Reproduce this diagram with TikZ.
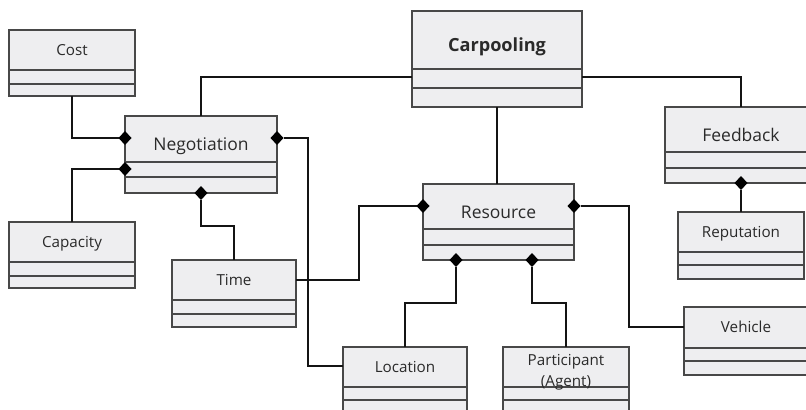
\documentclass[tikz,border=0pt]{standalone}
\usepackage{fontspec}
\setmainfont{Open Sans}
\usetikzlibrary{shapes.geometric,calc}
\definecolor{boxfill}{HTML}{EEEEF0}
\definecolor{boxline}{HTML}{484848}
\definecolor{txt}{HTML}{2A2A2A}
\tikzset{
  cls/.style={draw=boxline, fill=boxfill, line width=0.9pt, rectangle,
    inner sep=0pt, outer sep=0pt, anchor=north west},
  sep/.style={draw=boxline, line width=0.9pt},
  lbl/.style={text=txt, inner sep=0pt, anchor=base, align=center,
    font=\fontsize{11.4}{15.5}\selectfont, yshift=-4.05pt},
  biglbl/.style={lbl, font=\fontsize{13.1}{17}\selectfont, yshift=-4.7pt},
  titlelbl/.style={lbl, font=\bfseries\fontsize{13.6}{18}\selectfont, yshift=-4.85pt},
  twolbl/.style={lbl, anchor=center, yshift=0pt},
  comp/.style={diamond, fill=black, draw=none, inner sep=0pt, outer sep=0pt,
    minimum width=9.75pt, minimum height=10.5pt},
  conn/.style={draw=black!92, line width=1.1pt}
}
% class box: name, x1, y1, x2, y2, first separator, second separator, label style, label
\newcommand\umlclass[9]{%
  \node[cls, minimum width={(#4-#2)*0.75pt}, minimum height={(#5-#3)*0.75pt}] (#1) at (#2,#3) {};
  \draw[sep] (#1.west |- 0,#6) -- (#1.east |- 0,#6);
  \draw[sep] (#1.west |- 0,#7) -- (#1.east |- 0,#7);
  \node[#8] (#1-name) at ({(#2+#4)/2},{(#3+#6)/2}) {#9};
}
\begin{document}
\begin{tikzpicture}[x=0.75pt, y=-0.75pt]
  \useasboundingbox (0,0) rectangle (806,410);
  \clip (0,0) rectangle (806,410);

  % classes
  \umlclass{carp}{412}{11}{582}{107}{69}{88}{titlelbl}{Carpooling}
  \umlclass{cost}{9}{30}{135}{96}{70}{84}{lbl}{Cost}
  \umlclass{neg}{125}{116}{277}{193}{162}{177}{biglbl}{Negotiation}
  \umlclass{fb}{665}{107}{817}{183}{152}{168}{biglbl}{Feedback}
  \umlclass{cap}{9}{222}{135}{288}{262}{276}{lbl}{Capacity}
  \umlclass{time}{172}{260}{296}{327}{300}{314}{lbl}{Time}
  \umlclass{res}{423}{184}{574}{260}{229}{245}{biglbl}{Resource}
  \umlclass{rep}{678}{212}{804}{279}{252}{265}{lbl}{Reputation}
  \umlclass{veh}{684}{307}{808}{375}{348}{361}{lbl}{Vehicle}
  \umlclass{loc}{343}{347}{467}{420}{387}{400}{lbl}{Location}
  \umlclass{part}{503}{347}{629}{420}{387}{400}{twolbl}{Participant\\(Agent)}

  % composition diamonds
  \node[comp] (dNegL1) at (125,138) {};
  \node[comp] (dNegL2) at (125,169) {};
  \node[comp] (dNegR)  at (277,138) {};
  \node[comp] (dNegB)  at (201,193) {};
  \node[comp] (dResL)  at (423,206) {};
  \node[comp] (dResR)  at (574,206) {};
  \node[comp] (dResB1) at (456,260) {};
  \node[comp] (dResB2) at (532,260) {};
  \node[comp] (dFb)    at (741,183) {};

  % bend points
  \coordinate (nl) at (308,366);
  \coordinate (tr) at (359,280);
  \coordinate (rv) at (629,327);

  % connectors
  \draw[conn] (cost.south) |- (dNegL1.west);
  \draw[conn] (dNegL2.west) -| (cap.north);
  \draw[conn] (neg.north) |- (carp.west |- 0,77);
  \draw[conn] (carp.east |- 0,77) -| (fb.north);
  \draw[conn] (carp.south) -- (carp.south |- res.north);
  \draw[conn] (dFb.south) -- (rep.north);
  \draw[conn] (dNegR.east) -| (nl) -- (nl -| loc.west);
  \draw[conn] (dNegB.south) -- ++(0,26) -| (time.north);
  \draw[conn] (time.east |- tr) -- (tr) |- (dResL.west);
  \draw[conn] (dResB1.south) -- ++(0,36) -| (loc.north);
  \draw[conn] (dResB2.south) -- ++(0,36) -| (part.north);
  \draw[conn] (dResR.east) -| (rv) -- (rv -| veh.west);
\end{tikzpicture}
\end{document}
